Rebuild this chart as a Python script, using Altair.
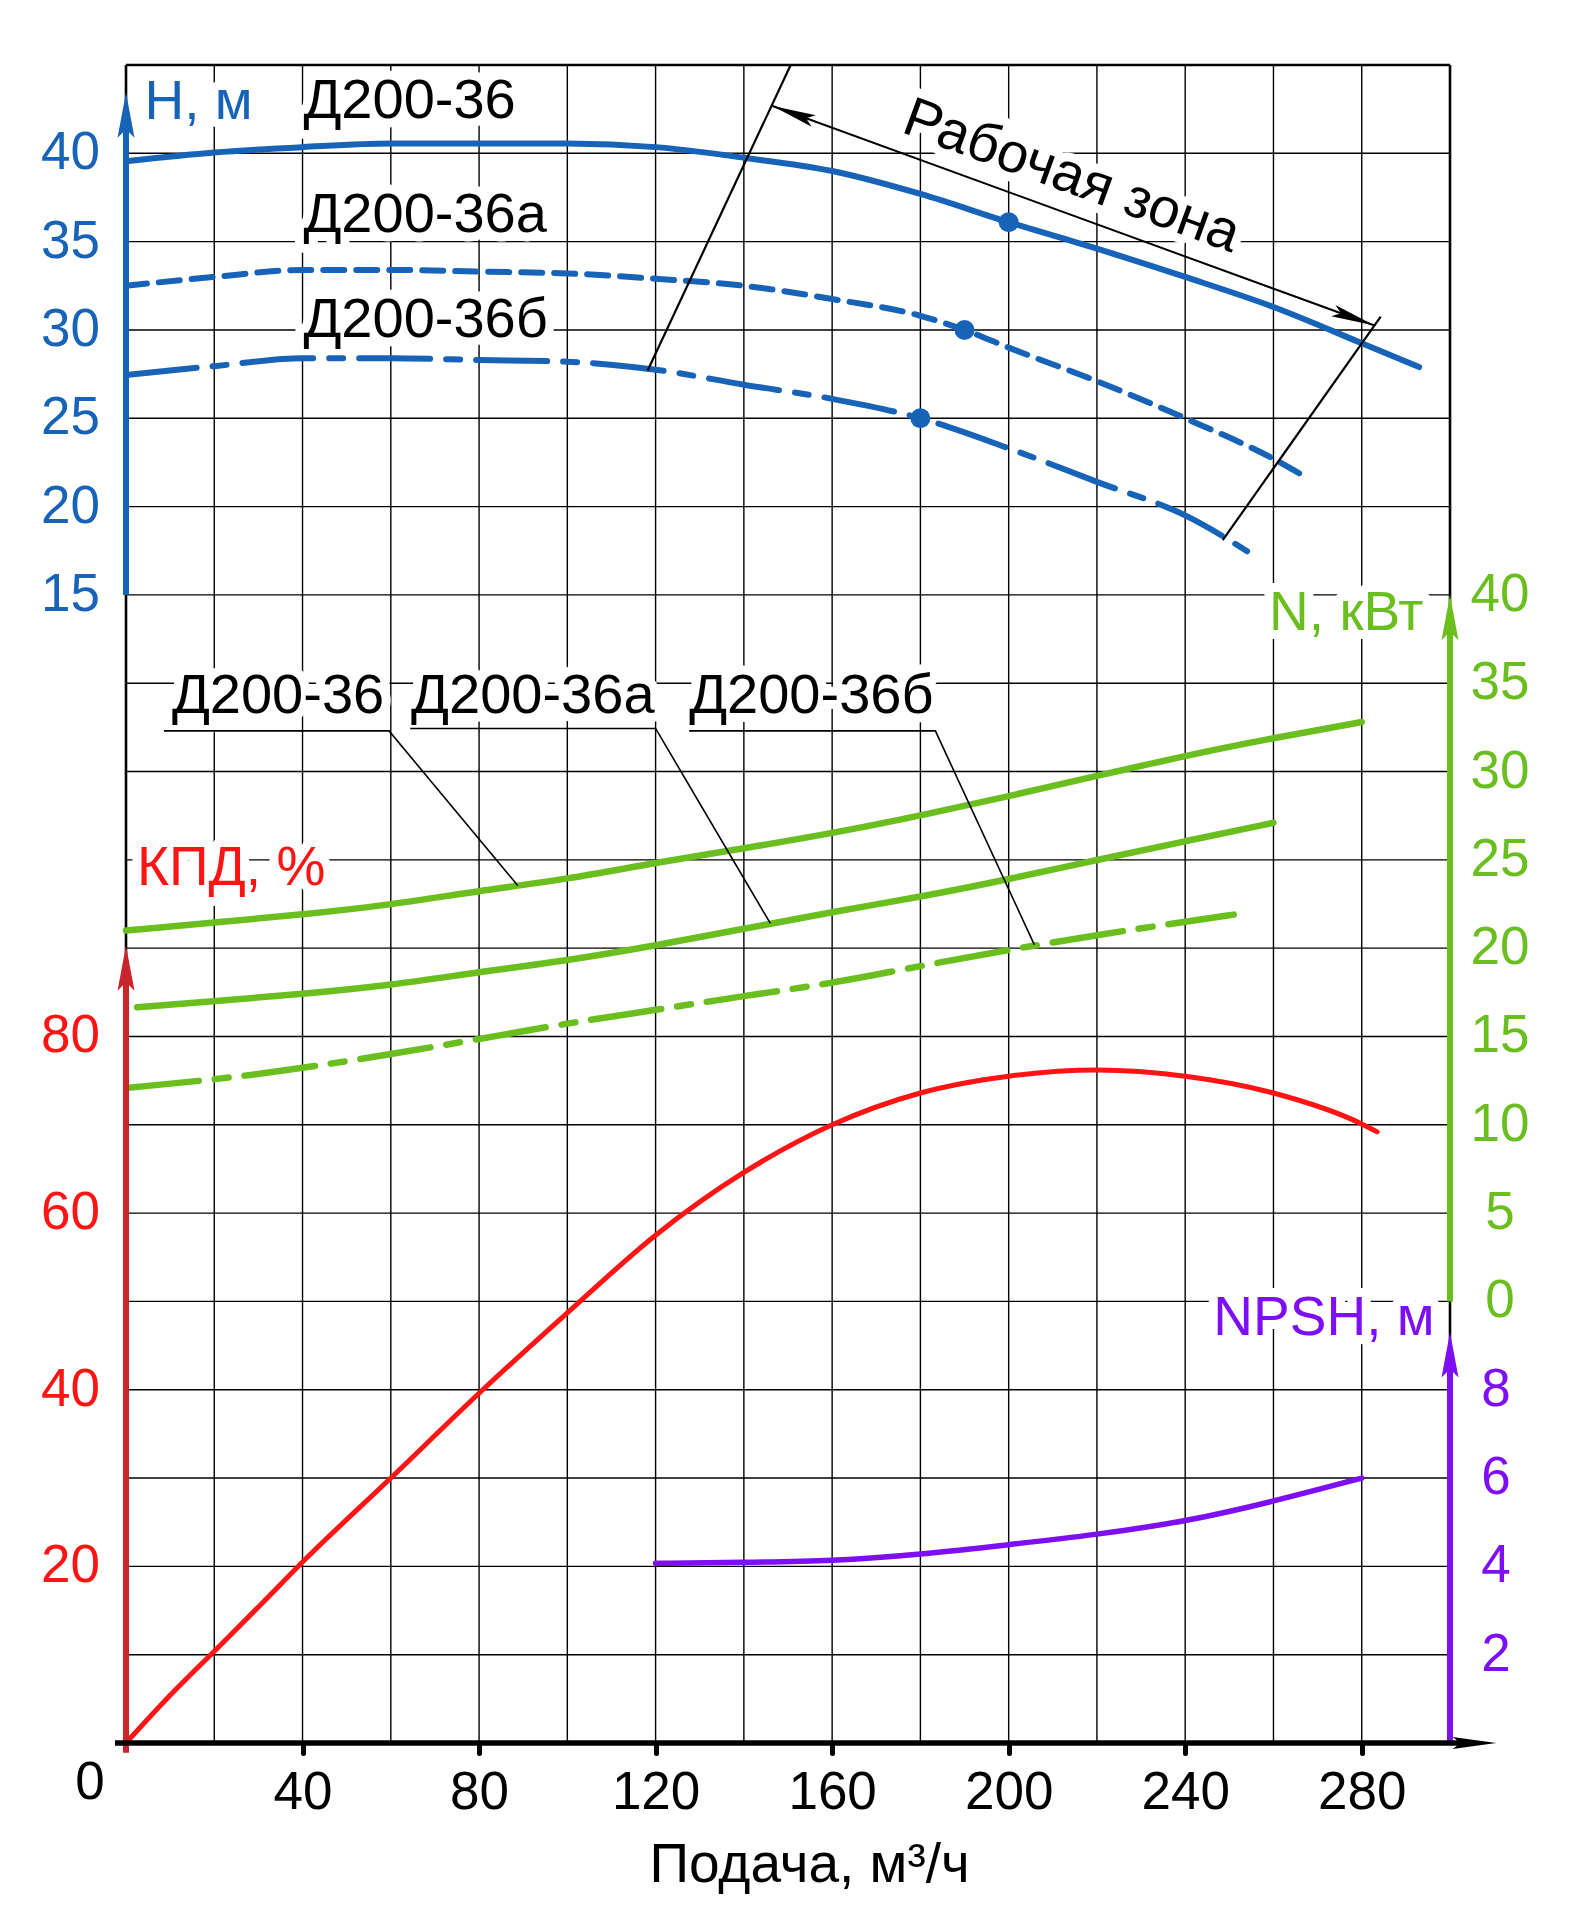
import altair as alt
import pandas as pd

FONT = 'Liberation Sans'
BLUE = '#1763b8'
GREEN = '#6abf1f'
RED = '#ff1414'
AXIS_RED = '#c9262c'
PURPLE = '#7e0ef3'

pumps = ['Д200-36', 'Д200-36а', 'Д200-36б']

# Head H, m
q_h36 = [0, 20, 40, 60, 80, 100, 120, 140, 160, 180, 200, 220, 240, 260, 280, 293]
h_36 = [39.55, 40.05, 40.35, 40.55, 40.55, 40.55, 40.35, 39.75, 39.0, 37.7, 36.1, 34.6, 33.0, 31.3, 29.25, 27.9]
q_h36a = [0, 20, 40, 60, 80, 100, 120, 140, 160, 180, 190, 200, 220, 240, 260, 267.8]
h_36a = [32.5, 33.0, 33.4, 33.4, 33.3, 33.2, 32.9, 32.5, 31.75, 30.8, 30.0, 29.0, 27.1, 25.0, 22.7, 21.6]
q_h36b = [0, 20, 40, 60, 80, 100, 120, 140, 160, 180, 200, 220, 240, 257]
h_36b = [27.45, 27.95, 28.4, 28.4, 28.3, 28.2, 27.75, 26.9, 26.1, 25.0, 23.3, 21.4, 19.5, 17.0]
# duty points
q_dot = [200, 190, 180]
h_dot = [36.1, 30.0, 25.0]

# Power N, kW
q_n36 = [0, 20, 40, 60, 80, 100, 120, 140, 160, 180, 200, 220, 240, 260, 280]
n_36 = [21.0, 21.45, 21.9, 22.45, 23.25, 23.9, 24.85, 25.65, 26.5, 27.5, 28.6, 29.75, 30.9, 31.9, 32.8]
q_n36a = [2.5, 20, 40, 60, 80, 100, 120, 140, 160, 180, 200, 220, 240, 260]
n_36a = [16.65, 17.0, 17.4, 17.9, 18.65, 19.3, 20.15, 21.1, 22.05, 22.9, 23.9, 25.0, 26.05, 27.1]
q_n36b = [0.5, 20, 40, 60, 80, 100, 120, 140, 160, 180, 200, 220, 240, 251]
n_36b = [12.1, 12.55, 13.2, 14.0, 14.85, 15.75, 16.5, 17.3, 18.0, 19.0, 19.9, 20.75, 21.5, 21.9]

# Efficiency (КПД), %
q_kpd = [0, 10, 20, 30, 40, 60, 80, 100, 120, 140, 160, 180, 200, 220, 240, 260, 280, 283.5]
kpd = [0, 5.4, 10.4, 15.4, 20.5, 30.0, 39.6, 48.7, 57.5, 64.6, 70.0, 73.6, 75.5, 76.2, 75.5, 73.6, 70.1, 69.2]

# NPSH, m
q_npsh = [120, 140, 160, 180, 200, 220, 240, 260, 280]
npsh = [4.07, 4.09, 4.12, 4.27, 4.49, 4.72, 5.01, 5.47, 6.0]

# tick labels and grid
x_ticks = [40, 80, 120, 160, 200, 240, 280]
h_ticks = [15, 20, 25, 30, 35, 40]
kpd_ticks = [20, 40, 60, 80]
n_ticks = [0, 5, 10, 15, 20, 25, 30, 35, 40]
npsh_ticks = [2, 4, 6, 8]
grid_q = list(range(0, 301, 20))
grid_kpd = list(range(0, 191, 10))

# annotation anchors (data units)
h_lab_q = [40.2, 40.2, 40.2]
h_lab_v = [42.0, 35.55, 29.6]
n_lab_q = [10.4, 64.6, 127.6]
n_lab_v = [33.33, 33.33, 33.33]
lead_id = [0, 0, 0, 1, 1, 1, 2, 2, 2]
lead_k = [0, 1, 2, 0, 1, 2, 0, 1, 2]
lead_q = [8.6, 59.6, 88.75, 64.4, 120.0, 146.0, 127.6, 183.4, 205.8]
lead_n = [32.3, 32.3, 23.55, 32.44, 32.44, 21.4, 32.3, 32.3, 20.2]
zone_q1, zone_h1 = [150.6, 284.3], [45.0, 30.75]
zone_q2, zone_h2 = [118.2, 248.5], [27.7, 18.1]
span_q, span_h = [146.5, 282.9], [42.68, 30.25]

# scales: every family lines up on the same 15 x 19 cell grid
SX = alt.Scale(domain=[0, 300], nice=False, zero=False)
SH = alt.Scale(domain=[-50, 45], nice=False, zero=False)
SK = alt.Scale(domain=[0, 190], nice=False, zero=False)
SN = alt.Scale(domain=[-25, 70], nice=False, zero=False)
SP = alt.Scale(domain=[0, 38], nice=False, zero=False)

# one shared x axis (identical in every layer so the layers merge it)
XAXIS = alt.Axis(
    values=x_ticks, format='d', domain=False, grid=False,
    tickSize=10, tickWidth=5, tickColor='black', tickCap='round',
    labelFont=FONT, labelFontSize=53, labelColor='black', labelPadding=13,
    labelFlush=False, labelOverlap=False,
    title='Подача, м³/ч', titleFont=FONT, titleFontSize=55, titleFontWeight='normal',
    titleColor='black', titleX=683, titleY=138, titleBaseline='alphabetic', titleAlign='center')

ARROW = 'M0,0 L0.3,1.6 L0,1.3 L-0.3,1.6 Z'
THIN_ARROW = 'M0,0 L0.22,1.6 L0,1.3 L-0.22,1.6 Z'


def X(f='q'):
    return alt.X(f'{f}:Q', scale=SX, axis=XAXIS)


def Y(f, s):
    return alt.Y(f'{f}:Q', scale=s, axis=None)


def curve(q, v, s, color, width, dash=None, interp='monotone'):
    mk = dict(interpolate=interp, strokeWidth=width, strokeCap='round', color=color)
    if dash:
        mk['strokeDash'] = dash
    return alt.Chart(pd.DataFrame({'q': q, 'v': v})).mark_line(**mk).encode(x=X(), y=Y('v', s))


def texts(q, v, t, s, color, size, **mk):
    base = alt.Chart(pd.DataFrame({'q': q, 'v': v, 't': t})).encode(x=X(), y=Y('v', s), text='t:N')
    fg = base.mark_text(font=FONT, fontSize=size, color=color, **mk)
    bg = base.mark_text(font=FONT, fontSize=size, color='white', stroke='white',
                        strokeWidth=18, strokeJoin='round', **mk)
    return bg, fg


def ticks(qpos, vals, s, color, **mk):
    df = pd.DataFrame({'q': [qpos] * len(vals), 'v': vals, 't': [str(v) for v in vals]})
    return alt.Chart(df).mark_text(font=FONT, fontSize=53, color=color, baseline='middle', **mk).encode(
        x=X(), y=Y('v', s), text='t:N')


def shaft(q, lo, hi, s, color, width=6):
    df = pd.DataFrame({'q': [q], 'v': [lo], 'v2': [hi]})
    return alt.Chart(df).mark_rule(color=color, strokeWidth=width).encode(x=X(), y=Y('v', s), y2='v2:Q')


def heads(q, v, ang, s, color, path=ARROW, size=3200):
    df = pd.DataFrame({'q': q, 'v': v, 'a': ang})
    return alt.Chart(df).mark_point(shape=path, filled=True, size=size, color=color, opacity=1,
                                    strokeWidth=0).encode(
        x=X(), y=Y('v', s), angle=alt.Angle('a:Q', scale=None))


# ---- grid and frame ----
grid_v = alt.Chart(pd.DataFrame({'q': grid_q})).mark_rule(color='black', strokeWidth=1.4).encode(x=X())
grid_h = alt.Chart(pd.DataFrame({'v': grid_kpd})).mark_rule(color='black', strokeWidth=1.4).encode(y=Y('v', SK))
top_border = alt.Chart(pd.DataFrame({'v': [190]})).mark_rule(color='black', strokeWidth=2.5).encode(y=Y('v', SK))
side_borders = alt.Chart(pd.DataFrame({'q': [0, 300]})).mark_rule(color='black', strokeWidth=2.6).encode(x=X())

x_line = alt.Chart(pd.DataFrame({'q': [-2.5], 'q2': [303], 'v': [0]})).mark_rule(
    color='black', strokeWidth=5.5).encode(x=X(), x2='q2:Q', y=Y('v', SK))

# ---- text with white boxes ----
hl_bg, hl_fg = texts(h_lab_q, h_lab_v, pumps, SH, 'black', 56, align='left', baseline='alphabetic')
ht_bg, ht_fg = texts([4.2], [41.92], ['Н, м'], SH, BLUE, 55, align='left', baseline='alphabetic')
zn_bg, zn_fg = texts([214.3], [38.7], ['Рабочая зона'], SH, 'black', 56,
                     align='center', baseline='middle', angle=20)
kt_bg, kt_fg = texts([2.5], [97.2], ['КПД, %'], SK, RED, 55, align='left', baseline='alphabetic')
nl_bg, nl_fg = texts(n_lab_q, n_lab_v, pumps, SN, 'black', 56, align='left', baseline='alphabetic')
nt_bg, nt_fg = texts([294], [38.0], ['N, кВт'], SN, GREEN, 55, align='right', baseline='alphabetic')
pt_bg, pt_fg = texts([296.5], [9.23], ['NPSH, м'], SP, PURPLE, 55, align='right', baseline='alphabetic')

# ---- head marks ----
dots = alt.Chart(pd.DataFrame({'q': q_dot, 'v': h_dot})).mark_circle(size=400, color=BLUE, opacity=1).encode(
    x=X(), y=Y('v', SH))
zone = alt.Chart(pd.DataFrame({'q': zone_q1, 'v': zone_h1, 'q2': zone_q2, 'v2': zone_h2})).mark_rule(
    color='black', strokeWidth=2.2).encode(x=X(), y=Y('v', SH), x2='q2:Q', y2='v2:Q')
span = alt.Chart(pd.DataFrame({'q': [span_q[0]], 'v': [span_h[0]], 'q2': [span_q[1]], 'v2': [span_h[1]]})).mark_rule(
    color='black', strokeWidth=2).encode(x=X(), y=Y('v', SH), x2='q2:Q', y2='v2:Q')

leaders = alt.Chart(pd.DataFrame({'q': lead_q, 'v': lead_n, 'id': lead_id, 'k': lead_k})).mark_line(
    color='black', strokeWidth=1.6).encode(x=X(), y=Y('v', SN), detail='id:N', order='k:Q')

origin = alt.Chart(pd.DataFrame({'q': [0], 'v': [0], 't': ['0']})).mark_text(
    font=FONT, fontSize=53, color='black', align='center', baseline='top', dx=-36, dy=14).encode(
    x=X(), y=Y('v', SK), text='t:N')

layers = [
    grid_v, grid_h, top_border, side_borders,
    hl_bg, ht_bg, zn_bg, kt_bg, nl_bg, nt_bg, pt_bg,
    # head
    curve(q_h36, h_36, SH, BLUE, 6),
    curve(q_h36a, h_36a, SH, BLUE, 6, [21, 12]),
    curve(q_h36b, h_36b, SH, BLUE, 6, [71, 16, 14, 16]),
    dots, zone, span,
    heads(span_q, span_h, [290, 110], SH, 'black', THIN_ARROW, 3000),
    # power
    curve(q_n36, n_36, SN, GREEN, 6.5, interp='basis'),
    curve(q_n36a, n_36a, SN, GREEN, 6.5, interp='basis'),
    curve(q_n36b, n_36b, SN, GREEN, 6.5, [71, 16, 14, 16], interp='basis'),
    leaders,
    # efficiency and NPSH
    curve(q_kpd, kpd, SK, RED, 5),
    curve(q_npsh, npsh, SP, PURPLE, 5.5, interp='basis'),
    # coloured axes with arrows
    shaft(0, 15, 41.6, SH, BLUE),
    heads([0], [43.45], [0], SH, BLUE),
    shaft(0, -1.1, 86.3, SK, AXIS_RED),
    heads([0], [90.3], [0], SK, AXIS_RED),
    shaft(300, 0, 38.1, SN, GREEN),
    heads([300], [40], [0], SN, GREEN),
    shaft(300, 0, 8.55, SP, PURPLE),
    heads([300], [9.3], [0], SP, PURPLE),
    x_line,
    heads([310.5], [0], [90], SK, 'black', THIN_ARROW, 3000),
    # texts
    hl_fg, ht_fg, zn_fg, kt_fg, nl_fg, nt_fg, pt_fg,
    ticks(0, h_ticks, SH, BLUE, align='right', dx=-26),
    ticks(0, kpd_ticks, SK, RED, align='right', dx=-26),
    ticks(300, n_ticks, SN, GREEN, align='center', dx=50),
    ticks(300, npsh_ticks, SP, PURPLE, align='center', dx=46),
    origin,
]

chart = alt.layer(*layers).resolve_scale(
    y='independent'
).properties(
    width=1324, height=1678,
    padding={'left': 118, 'top': 57, 'right': 110, 'bottom': 170},
    autosize=alt.AutoSizeParams(type='none'),
    background='white',
).configure_view(strokeWidth=0)

chart.save('out.html', embed_options={'renderer': 'svg', 'actions': False})
